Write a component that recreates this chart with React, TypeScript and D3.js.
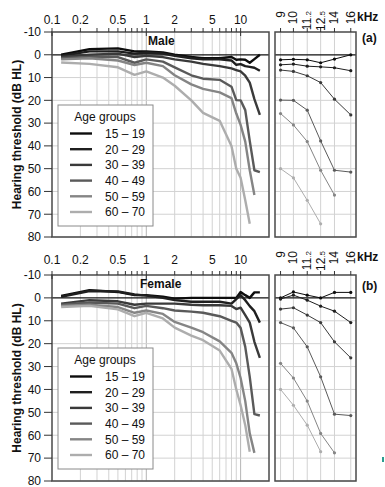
import React from "react";
import * as d3 from "d3";

const width = 385;
const height = 487;

// audiometric frequencies (kHz)
const freqs = [0.125, 0.25, 0.5, 0.75, 1, 1.5, 2, 3, 4, 6, 8, 9, 10, 11.2, 12.5, 14, 16];
const highFreqs = [9, 10, 11.2, 12.5, 14, 16];
const ageGroups = ["15 – 19", "20 – 29", "30 – 39", "40 – 49", "50 – 59", "60 – 70"];
const groupColors = ["#0d0d0d", "#1f1f1f", "#3a3a3a", "#5a5a5a", "#858585", "#adadad"];

// Male thresholds (dB HL)
const male15 = [0, -2.5, -2.8, -1.5, -1.5, -1, 0, 1, 1.5, 1.5, 1, 2.2, 2, 2.2, 3.5, 1.9, 0];
const male20 = [0.5, -1.5, -1.5, -0.5, -1, -0.5, 0.5, 1.5, 2, 2, 2.5, 4.4, 4.1, 5, 5.3, 5.7, 7];
const male30 = [1, 0, -0.5, 1, 0.5, 1, 2, 3, 4, 5, 6, 6.7, 7.3, 9.2, 12.2, 19.5, 26.4];
const male40 = [1.5, 1, 1, 3.5, 2, 3, 5.5, 9, 10.5, 11, 14, 19.9, 20, 24.3, 37.8, 50.7, 51.5];
const male50 = [2, 1.5, 2.5, 4.5, 3.5, 5, 9, 13, 15, 16.5, 19, 25.8, 30.8, 38.1, 50.7, 61.6];
const male60 = [3.4, 4, 5.5, 8.8, 7.3, 10, 13.6, 20, 25.5, 29, 40, 50, 54, 63.9, 74.2];

// Female thresholds (dB HL)
const female15 = [-0.9, -3.4, -2.6, -1.2, -1.2, -0.5, 0.3, 0, 0, 0, 0, 0, -2.6, -1.2, 0, -2.4, -2.4];
const female20 = [-0.5, -3, -2.8, -1.5, -1, 0, 1, 1.7, 1.7, 1.7, 2.5, 0.5, -1.2, 1, 3.6, 5.8, 10.8];
const female30 = [2.5, 1, 1.5, 3, 2.5, 2.5, 2.5, 3, 3.2, 3.2, 3.5, 4.9, 4.3, 7.5, 10.8, 19.2, 26.2];
const female40 = [3, 2, 2.5, 4.5, 3.5, 4.5, 5.5, 6, 6.5, 8, 10, 10.8, 13.1, 21.4, 34.5, 50.8, 51.4];
const female50 = [3.5, 3, 4, 6.5, 5.5, 7, 10.5, 13, 15, 19, 24, 28.6, 35, 45.1, 59.2, 67.7];
const female60 = [4, 3.5, 5, 8, 6.5, 9, 13, 16.5, 18.5, 23, 31, 40, 46.9, 55.6, 67.2];

const mainTickLabels = [0.1, 0.2, 0.5, 1, 2, 5, 10];
const mainGrid = [0.2, 0.3, 0.4, 0.5, 0.6, 0.7, 0.8, 0.9, 1, 2, 3, 4, 5, 6, 7, 8, 9, 10];
const yTicks = [-10, 0, 10, 20, 30, 40, 50, 60, 70, 80];
const highLabels = ["9", "10", "11.2", "12.5", "14", "16"];

const font = "'Liberation Sans', Arial, Helvetica, sans-serif";

const xMain = d3.scaleLog().domain([0.1, 20]).range([52, 269]);
const xHigh = d3.scaleLog().domain([8.6, 16.7]).range([275, 356]);

type PanelProps = {
  top: number;
  bottom: number;
  labelY: number;
  title: string;
  titleX: number;
  titleY: number;
  tag: string;
  tagY: number;
  series: number[][];
};

function Panel({ top, bottom, labelY, title, titleX, titleY, tag, tagY, series }: PanelProps) {
  const y = d3.scaleLinear().domain([-10, 80]).range([top, bottom]);
  const pts = (vals: number[]) => vals.map((v, i) => [freqs[i], v] as [number, number]);
  const mainLine = d3.line<[number, number]>().x(d => xMain(d[0])).y(d => y(d[1]));
  const highLine = d3.line<[number, number]>().x(d => xHigh(d[0])).y(d => y(d[1]));
  const [x0, x1] = xMain.range();
  const [r0, r1] = xHigh.range();

  return (
    <g>
      {/* grid */}
      {mainGrid.map(f => (
        <line key={"g" + f} x1={xMain(f)} x2={xMain(f)} y1={top} y2={bottom}
          stroke={f === 1 || f === 10 ? "#b5b5b5" : "#d2d2d2"} strokeWidth={1} />
      ))}
      {highFreqs.map(f => (
        <line key={"h" + f} x1={xHigh(f)} x2={xHigh(f)} y1={top} y2={bottom} stroke="#d2d2d2" />
      ))}
      {yTicks.slice(2).map(t => (
        <g key={"y" + t}>
          <line x1={x0} x2={x1} y1={y(t)} y2={y(t)} stroke="#d2d2d2" />
          <line x1={r0} x2={r1} y1={y(t)} y2={y(t)} stroke="#d2d2d2" />
        </g>
      ))}
      <line x1={x0} x2={x1} y1={y(0)} y2={y(0)} stroke="#111" strokeWidth={1.2} />
      <line x1={r0} x2={r1} y1={y(0)} y2={y(0)} stroke="#111" strokeWidth={1.2} />

      {/* main curves */}
      {series.map((vals, i) => (
        <path key={"c" + i} d={mainLine(pts(vals)) || ""} fill="none"
          stroke={groupColors[i]} strokeWidth={2.4} strokeLinejoin="round" />
      ))}
      {/* extended high frequency panel */}
      {series.map((vals, i) => {
        const hp = pts(vals).filter(d => d[0] >= 9);
        return (
          <g key={"hc" + i}>
            <path d={highLine(hp) || ""} fill="none" stroke={groupColors[i]} strokeWidth={1} />
            {hp.map(d => (
              <circle key={d[0]} cx={xHigh(d[0])} cy={y(d[1])} r={1.6} fill={groupColors[i]} />
            ))}
          </g>
        );
      })}

      {/* frames */}
      <rect x={x0} y={top} width={x1 - x0} height={bottom - top} fill="none" stroke="#4a4a4a" strokeWidth={1.5} />
      <rect x={r0} y={top} width={r1 - r0} height={bottom - top} fill="none" stroke="#4a4a4a" strokeWidth={1.5} />

      {/* y axis */}
      {yTicks.map(t => (
        <g key={"yt" + t}>
          <line x1={44} x2={x0} y1={y(t)} y2={y(t)} stroke="#333" />
          <text x={41} y={y(t) + 4.3} textAnchor="end" fontSize={12} fontFamily={font} fill="#111">{t}</text>
        </g>
      ))}

      {/* top x ticks main */}
      {mainGrid.concat([0.1]).map(f => {
        const major = f === 0.1 || f === 1 || f === 10;
        return (
          <line key={"xt" + f} x1={xMain(f)} x2={xMain(f)} y1={top - 4} y2={major ? top + 4 : top}
            stroke="#333" />
        );
      })}
      {mainTickLabels.map(f => (
        <text key={"xl" + f} x={xMain(f)} y={labelY} textAnchor="middle" fontSize={12}
          fontFamily={font} fill="#111">{f}</text>
      ))}

      {/* top x ticks high */}
      {highFreqs.map((f, i) => {
        const [a, b] = highLabels[i].split(".");
        return (
          <g key={"ht" + f}>
            <line x1={xHigh(f)} x2={xHigh(f)} y1={top - 4} y2={top} stroke="#333" />
            <text transform={`translate(${xHigh(f) + 4},${labelY - 13}) rotate(-90)`} textAnchor="end"
              fontSize={12} fontFamily={font} fill="#111">
              {a}
              {b ? <tspan fontSize={8}>{"." + b}</tspan> : null}
            </text>
          </g>
        );
      })}
      <text x={357} y={labelY - 3} fontSize={12} fontWeight="bold" fontFamily={font} fill="#111">kHz</text>
      <text x={362} y={tagY} fontSize={12} fontWeight="bold" fontFamily={font} fill="#111">{tag}</text>
      <text x={titleX} y={titleY} fontSize={12} fontWeight="bold" fontFamily={font} fill="#111">{title}</text>

      {/* y label */}
      <text transform={`translate(21,${(top + bottom) / 2}) rotate(-90)`} textAnchor="middle"
        fontSize={12} fontWeight="bold" fontFamily={font} fill="#111">Hearing threshold (dB HL)</text>

      {/* legend */}
      <rect x={58} y={top + 73} width={95} height={121} fill="#fff" stroke="#8a8a8a" strokeWidth={1} />
      <text x={105} y={top + 89} textAnchor="middle" fontSize={12} fontFamily={font} fill="#111">Age groups</text>
      {ageGroups.map((g, i) => {
        const ly = top + 101.5 + i * 15.7;
        return (
          <g key={g}>
            <line x1={70} x2={92} y1={ly} y2={ly} stroke={groupColors[i]} strokeWidth={2.4} />
            <text x={105} y={ly + 4.3} fontSize={12} fontFamily={font} fill="#111">{g}</text>
          </g>
        );
      })}
    </g>
  );
}

export default function App() {
  return (
    <svg width={width} height={height} style={{ position: "absolute", left: 0, top: 0, background: "#fff" }}>
      <Panel top={32} bottom={237} labelY={24} title="Male" titleX={148} titleY={45} tag="(a)" tagY={42}
        series={[male15, male20, male30, male40, male50, male60]} />
      <Panel top={275} bottom={481} labelY={264} title="Female" titleX={140} titleY={288} tag="(b)" tagY={290}
        series={[female15, female20, female30, female40, female50, female60]} />
      <rect x={382} y={457} width={2} height={5} fill="#2a9d8f" />
    </svg>
  );
}
